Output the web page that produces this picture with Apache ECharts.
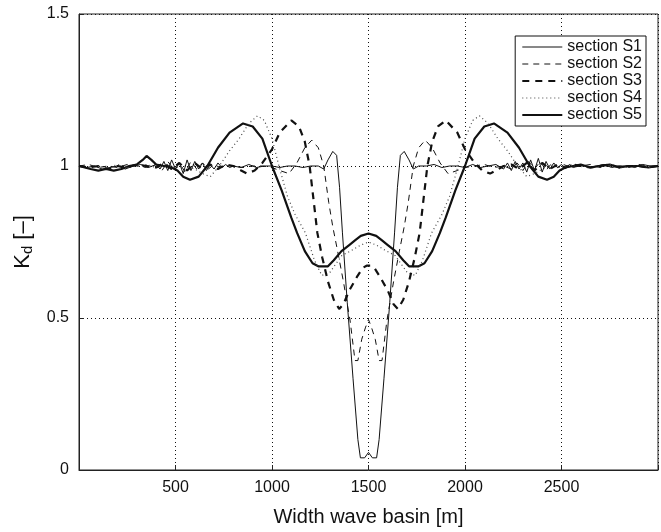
<!DOCTYPE html>
<html><head><meta charset="utf-8">
<script src="https://cdn.jsdelivr.net/npm/echarts@6/dist/echarts.min.js"></script>
<style>html,body{margin:0;padding:0;background:#fff}#c{width:661px;height:532px}</style>
</head><body><div id="c"></div>
<script>
const seriesNames = ['section S1','section S2','section S3','section S4','section S5'];
const xTicks = [500,1000,1500,2000,2500];
const yTicks = [0,0.5,1,1.5];

const s1X = [0,40,80,120,160,200,240,280,320,360,400,420,440,460,480,500,520,540,560,580,600,620,640,660,680,700,720,740,760,780,800,840,880,920,960,1000,1040,1080,1120,1160,1200,1240,1268,1290,1315,1335,1350,1365,1390,1420,1445,1458,1480,1500,1520,1542,1555,1580,1610,1635,1650,1665,1685,1710,1732,1760,1800,1840,1880,1920,1960,2000,2040,2080,2120,2160,2200,2220,2240,2260,2280,2300,2320,2340,2360,2380,2400,2420,2440,2460,2480,2500,2520,2540,2560,2580,2600,2640,2680,2720,2760,2800,2840,2880,2920,2960,3000];
const s1Y = [1.0,0.995,1.0,0.99,0.995,1.0,0.99,1.0,1.005,0.995,1.005,0.99,1.015,0.985,1.02,0.99,1.01,0.975,1.02,0.985,1.015,0.99,1.01,0.985,1.005,0.99,1.01,0.995,1.005,0.995,1.0,0.995,1.005,0.995,1.0,1.0,0.995,1.0,1.0,0.995,1.0,1.0,0.99,1.02,1.048,1.035,0.93,0.78,0.55,0.3,0.1,0.04,0.04,0.058,0.04,0.04,0.1,0.3,0.55,0.78,0.93,1.035,1.048,1.02,0.99,1.0,1.0,1.005,0.995,1.0,1.0,0.995,1.005,0.995,1.0,1.005,0.99,1.01,0.985,1.015,0.99,1.01,0.98,1.02,0.985,1.025,0.98,1.015,0.99,1.01,0.995,1.005,0.99,1.005,0.995,1.0,1.005,0.995,1.0,1.005,0.995,1.0,1.0,0.995,1.005,1.0,1.0];

const s2X = [0,50,100,150,200,250,300,350,400,430,460,490,520,550,580,610,640,670,700,730,760,800,850,900,950,1000,1040,1088,1129,1170,1206,1240,1268,1294,1315,1340,1370,1405,1430,1445,1465,1485,1500,1515,1535,1555,1570,1595,1630,1660,1685,1706,1732,1760,1794,1830,1871,1912,1960,2000,2050,2100,2150,2200,2240,2270,2300,2330,2360,2390,2420,2450,2480,2510,2550,2600,2650,2700,2750,2800,2850,2900,2950,3000];
const s2Y = [1.0,1.005,0.995,1.0,0.995,1.005,1.0,0.995,1.005,0.985,1.015,0.99,1.01,0.98,1.015,0.99,1.01,0.99,1.005,0.995,1.0,1.0,0.995,1.0,1.0,0.995,0.985,0.975,1.01,1.06,1.085,1.06,1.0,0.88,0.8,0.72,0.62,0.49,0.36,0.36,0.43,0.47,0.495,0.47,0.43,0.36,0.36,0.49,0.62,0.72,0.8,0.88,1.0,1.06,1.085,1.06,1.01,0.975,0.985,0.995,1.0,1.005,0.995,1.0,0.99,1.01,0.985,1.015,0.99,1.015,0.985,1.01,0.995,1.005,0.995,1.0,1.005,0.995,1.0,1.0,0.995,1.005,1.0,1.0];

const s3X = [0,50,100,150,200,250,300,350,400,440,480,520,560,600,640,680,720,760,800,840,870,910,950,1000,1040,1100,1140,1170,1195,1215,1235,1260,1290,1320,1348,1370,1400,1440,1470,1490,1500,1510,1530,1560,1600,1630,1652,1680,1710,1740,1765,1785,1805,1830,1860,1900,1960,2000,2050,2090,2130,2160,2200,2240,2280,2320,2360,2400,2440,2480,2520,2560,2600,2650,2700,2750,2800,2850,2900,2950,3000];
const s3Y = [1.0,0.995,1.0,0.99,1.0,0.995,1.005,1.0,0.995,1.01,0.99,1.01,0.985,1.01,0.99,1.005,0.99,1.005,1.0,0.985,0.975,0.985,1.01,1.055,1.11,1.15,1.13,1.08,1.0,0.89,0.78,0.70,0.62,0.56,0.53,0.545,0.59,0.635,0.665,0.672,0.67,0.672,0.665,0.635,0.59,0.545,0.53,0.56,0.62,0.70,0.78,0.89,1.0,1.08,1.13,1.15,1.11,1.055,1.01,0.985,0.975,0.985,1.0,1.005,0.99,1.01,0.985,1.01,0.99,1.005,0.995,1.005,1.0,0.995,1.0,1.005,0.995,1.0,1.0,0.995,1.0];

const s4X = [0,50,100,150,200,250,300,350,400,450,500,550,600,640,680,727,780,830,880,925,960,1000,1036,1080,1120,1173,1220,1258,1300,1361,1420,1460,1500,1540,1580,1639,1700,1742,1780,1827,1880,1920,1964,2000,2040,2075,2120,2170,2220,2273,2320,2360,2400,2450,2500,2550,2600,2650,2700,2750,2800,2850,2900,2950,3000];
const s4Y = [1.0,0.995,1.0,0.995,1.005,0.995,1.0,1.005,0.995,1.0,0.995,1.0,0.99,0.975,0.965,1.0,1.05,1.09,1.14,1.165,1.15,1.09,1.0,0.9,0.84,0.78,0.69,0.64,0.65,0.705,0.725,0.74,0.75,0.74,0.725,0.705,0.65,0.64,0.69,0.78,0.84,0.9,1.0,1.09,1.15,1.165,1.14,1.09,1.05,1.0,0.965,0.975,0.99,1.0,0.995,1.005,1.0,0.995,1.0,1.005,0.995,1.0,1.0,0.995,1.0];

const s5X = [0,30,60,100,140,180,220,260,300,330,350,375,400,440,480,510,540,575,620,665,720,780,850,900,950,1000,1050,1100,1130,1170,1210,1240,1290,1320,1360,1400,1430,1460,1500,1540,1570,1600,1640,1680,1710,1760,1790,1830,1870,1900,1950,2000,2050,2100,2150,2220,2280,2335,2380,2425,2460,2490,2520,2560,2600,2650,2700,2750,2800,2850,2900,2950,3000];
const s5Y = [1.0,0.995,0.99,0.985,0.99,0.985,0.99,1.0,1.005,1.02,1.033,1.02,1.005,1.0,0.995,0.985,0.965,0.955,0.965,1.0,1.06,1.11,1.14,1.13,1.09,1.0,0.92,0.83,0.78,0.72,0.68,0.67,0.67,0.69,0.72,0.74,0.755,0.77,0.778,0.77,0.755,0.74,0.72,0.69,0.67,0.67,0.68,0.72,0.78,0.83,0.92,1.0,1.09,1.13,1.14,1.11,1.06,1.0,0.965,0.955,0.965,0.985,0.995,1.0,1.005,0.995,1.0,1.005,0.995,1.0,1.0,0.995,1.0];

function pairs(xs, ys){ return xs.map((x,i)=>[x, ys[i]]); }

const styles = [
  {width:1, type:'solid', color:'#111'},
  {width:1, type:[6,5], color:'#111'},
  {width:2.2, type:[7,6], color:'#111'},
  {width:1.2, type:[1,3], color:'#444'},
  {width:2.2, type:'solid', color:'#111'}
];
const xsAll = [s1X,s2X,s3X,s4X,s5X];
const ysAll = [s1Y,s2Y,s3Y,s4Y,s5Y];

const chart = echarts.init(document.getElementById('c'), null, {renderer:'canvas'});
const font = 'Liberation Sans, Arial, sans-serif';
chart.setOption({
  animation:false,
  backgroundColor:'#fff',
  textStyle:{fontFamily:font},
  grid:{left:79, right:0, top:14, bottom:59, show:true, borderColor:'#222', borderWidth:1, backgroundColor:'transparent'},
  legend:{
    orient:'vertical', right:15, top:36, backgroundColor:'#fff', borderColor:'#111', borderWidth:1, borderRadius:0,
    padding:[3,4,3,6], itemGap:1, itemWidth:40, itemHeight:14,
    itemStyle:{opacity:0, color:'transparent', borderWidth:0},
    textStyle:{fontSize:16, color:'#111', fontFamily:font},
    data:seriesNames.map((n,i)=>({name:n, lineStyle:{width:styles[i].width, type:styles[i].type, color:styles[i].color}}))
  },
  xAxis:{
    type:'value', min:0, max:3000, interval:500,
    name:'Width wave basin [m]', nameLocation:'middle', nameGap:37,
    nameTextStyle:{fontSize:20, color:'#111', fontFamily:font},
    axisLine:{show:true, lineStyle:{color:'#222', width:1}},
    axisTick:{show:true, inside:true, length:5, lineStyle:{color:'#222'}},
    axisLabel:{fontSize:16, color:'#111', margin:10, fontFamily:font,
      formatter:v=> xTicks.indexOf(v)>=0 ? String(v) : ''},
    splitLine:{show:true, lineStyle:{color:'#111', type:[1,3], width:1}}
  },
  yAxis:{
    type:'value', min:0, max:1.5, interval:0.5,
    name:'{k|K}{d|d}{k| [–]}', nameLocation:'middle', nameGap:42,
    nameTextStyle:{fontSize:22, color:'#111', fontFamily:font,
      rich:{k:{fontSize:22, color:'#111', fontFamily:font}, d:{fontSize:15, color:'#111', fontFamily:font, verticalAlign:'bottom', padding:[10,0,0,0]}}},
    axisLine:{show:true, lineStyle:{color:'#222', width:1}},
    axisTick:{show:true, inside:true, length:5, lineStyle:{color:'#222'}},
    axisLabel:{fontSize:16, color:'#111', margin:10, fontFamily:font,
      formatter:v=> yTicks.indexOf(v)>=0 ? String(v) : ''},
    splitLine:{show:true, lineStyle:{color:'#111', type:[1,3], width:1}}
  },
  series: seriesNames.map((n,i)=>({
    name:n, type:'line', data:pairs(xsAll[i], ysAll[i]), showSymbol:false, symbol:'none',
    lineStyle:styles[i], itemStyle:{color:styles[i].color}, z:10-i
  }))
});
</script></body></html>
